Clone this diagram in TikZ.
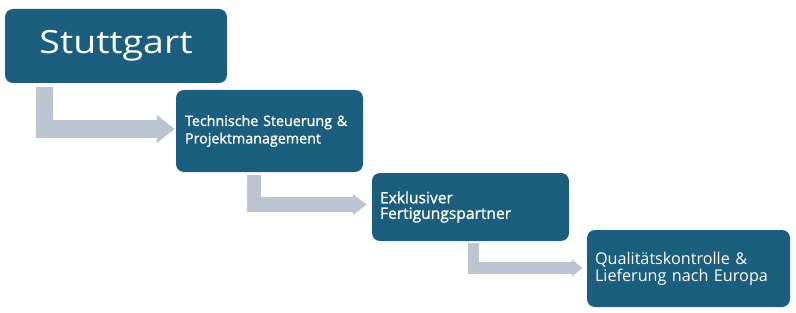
\documentclass[tikz,border=0pt]{standalone}
\usepackage{fontspec}
\setmainfont{Open Sans}
\newfontfamily\stufont[FakeStretch=1.17]{Open Sans}
\newfontfamily\semifont[FakeBold=1.2]{Open Sans}
\usetikzlibrary{arrows.meta,calc}
\definecolor{boxblue}{HTML}{1B5E7E}
\definecolor{arrgrey}{HTML}{BCC5CF}
\begin{document}
\begin{tikzpicture}[x=1pt,y=1pt,
  stepbox/.style={fill=boxblue, rounded corners=8pt, text=white, inner ysep=0pt, align=left},
  flowarrow/.style={draw=arrgrey, line join=miter}]
\useasboundingbox (0,0) rectangle (796,-313);
\node[stepbox, minimum width=222pt, minimum height=74pt, align=center, font=\stufont\fontsize{32}{38}\selectfont] (b1) at (116,-46) {\raisebox{1.5pt}{Stuttgart}};
\node[stepbox, minimum width=187pt, minimum height=82pt, inner xsep=9pt, text width=169pt, font=\semifont\fontsize{14.3}{17.5}\selectfont] (b2) at (269.5,-131) {Technische Steuerung \&\\Projektmanagement};
\node[stepbox, minimum width=197pt, minimum height=68pt, inner xsep=8pt, text width=181pt, font=\semifont\fontsize{15.6}{15.6}\selectfont] (b3) at (470.5,-207) {Exklusiver\\Fertigungspartner};
\node[stepbox, minimum width=203pt, minimum height=77pt, inner xsep=8pt, text width=187pt, font=\fontsize{16.2}{17}\selectfont] (b4) at (688.5,-268.5) {Qualitätskontrolle \&\\Lieferung nach Europa};
\draw[flowarrow, line width=17.5pt, -{Triangle[width=27pt,length=18pt]}]
  ([xshift=39.5pt,yshift=-4pt]b1.south west) |- ([xshift=-1pt,yshift=2pt]b2.west);
\draw[flowarrow, line width=14.5pt, -{Triangle[width=20pt,length=14pt]}]
  ([xshift=78pt,yshift=-3pt]b2.south west) |- ([xshift=-5pt,yshift=2.5pt]b3.west);
\draw[flowarrow, line width=11.5pt, -{Triangle[width=16pt,length=11pt]}]
  ([xshift=101.5pt,yshift=-2pt]b3.south west) |- ([xshift=-4pt,yshift=0.5pt]b4.west);
\end{tikzpicture}
\end{document}
